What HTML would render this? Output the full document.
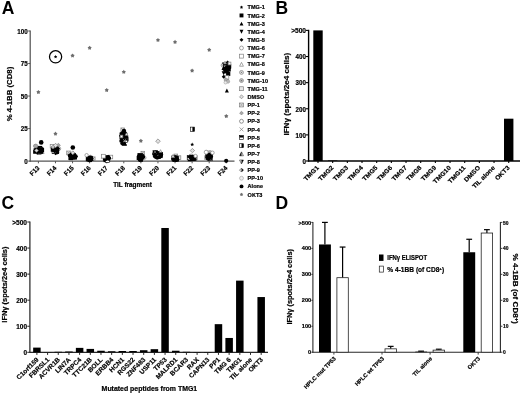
<!DOCTYPE html>
<html><head><meta charset="utf-8"><title>Figure</title>
<style>html,body{margin:0;padding:0;background:#fff;}svg{display:block}text{font-family:"Liberation Sans",Arial,sans-serif;font-weight:bold;stroke:#000;stroke-width:0.2px;stroke-linejoin:round}text.big{stroke:none}</style>
</head><body>
<svg width="520" height="393" viewBox="0 0 520 393">
<defs><filter id="soft" x="0" y="0" width="520" height="393" filterUnits="userSpaceOnUse"><feGaussianBlur stdDeviation="0.35"/></filter></defs>
<rect width="520" height="393" fill="#fff"/>
<g filter="url(#soft)">
<text class=big transform="translate(1.70,14.30)" font-size="17.5" text-anchor="start" fill="#000">A</text>
<line x1="30.20" y1="30.40" x2="30.20" y2="161.70" stroke="#555" stroke-width="1.25"/>
<line x1="29.60" y1="161.10" x2="234.50" y2="161.10" stroke="#555" stroke-width="1.3"/>
<line x1="28.20" y1="161.10" x2="30.20" y2="161.10" stroke="#555" stroke-width="1"/>
<text transform="translate(27.70,164.00) scale(0.953,1)" font-size="6.6" text-anchor="end" fill="#000">0</text>
<line x1="28.20" y1="128.57" x2="30.20" y2="128.57" stroke="#555" stroke-width="1"/>
<text transform="translate(27.70,131.47) scale(0.953,1)" font-size="6.6" text-anchor="end" fill="#000">25</text>
<line x1="28.20" y1="96.05" x2="30.20" y2="96.05" stroke="#555" stroke-width="1"/>
<text transform="translate(27.70,98.95) scale(0.953,1)" font-size="6.6" text-anchor="end" fill="#000">50</text>
<line x1="28.20" y1="63.53" x2="30.20" y2="63.53" stroke="#555" stroke-width="1"/>
<text transform="translate(27.70,66.43) scale(0.953,1)" font-size="6.6" text-anchor="end" fill="#000">75</text>
<line x1="28.20" y1="31.00" x2="30.20" y2="31.00" stroke="#555" stroke-width="1"/>
<text transform="translate(27.70,33.90) scale(0.953,1)" font-size="6.6" text-anchor="end" fill="#000">100</text>
<text transform="translate(12.20,94.00) rotate(-90) scale(1.026,1)" font-size="7.6" text-anchor="middle" fill="#000">% 4-1BB (CD8)</text>
<line x1="38.40" y1="161.10" x2="38.40" y2="163.30" stroke="#555" stroke-width="1"/>
<text transform="translate(40.00,168.60) rotate(-45) scale(0.960,1)" font-size="6.6" text-anchor="end" fill="#000">F13</text>
<line x1="55.48" y1="161.10" x2="55.48" y2="163.30" stroke="#555" stroke-width="1"/>
<text transform="translate(57.08,168.60) rotate(-45) scale(0.960,1)" font-size="6.6" text-anchor="end" fill="#000">F14</text>
<line x1="72.56" y1="161.10" x2="72.56" y2="163.30" stroke="#555" stroke-width="1"/>
<text transform="translate(74.16,168.60) rotate(-45) scale(0.960,1)" font-size="6.6" text-anchor="end" fill="#000">F15</text>
<line x1="89.64" y1="161.10" x2="89.64" y2="163.30" stroke="#555" stroke-width="1"/>
<text transform="translate(91.24,168.60) rotate(-45) scale(0.960,1)" font-size="6.6" text-anchor="end" fill="#000">F16</text>
<line x1="106.72" y1="161.10" x2="106.72" y2="163.30" stroke="#555" stroke-width="1"/>
<text transform="translate(108.32,168.60) rotate(-45) scale(0.960,1)" font-size="6.6" text-anchor="end" fill="#000">F17</text>
<line x1="123.80" y1="161.10" x2="123.80" y2="163.30" stroke="#555" stroke-width="1"/>
<text transform="translate(125.40,168.60) rotate(-45) scale(0.960,1)" font-size="6.6" text-anchor="end" fill="#000">F18</text>
<line x1="140.88" y1="161.10" x2="140.88" y2="163.30" stroke="#555" stroke-width="1"/>
<text transform="translate(142.48,168.60) rotate(-45) scale(0.960,1)" font-size="6.6" text-anchor="end" fill="#000">F19</text>
<line x1="157.96" y1="161.10" x2="157.96" y2="163.30" stroke="#555" stroke-width="1"/>
<text transform="translate(159.56,168.60) rotate(-45) scale(0.960,1)" font-size="6.6" text-anchor="end" fill="#000">F20</text>
<line x1="175.04" y1="161.10" x2="175.04" y2="163.30" stroke="#555" stroke-width="1"/>
<text transform="translate(176.64,168.60) rotate(-45) scale(0.960,1)" font-size="6.6" text-anchor="end" fill="#000">F21</text>
<line x1="192.12" y1="161.10" x2="192.12" y2="163.30" stroke="#555" stroke-width="1"/>
<text transform="translate(193.72,168.60) rotate(-45) scale(0.960,1)" font-size="6.6" text-anchor="end" fill="#000">F22</text>
<line x1="209.20" y1="161.10" x2="209.20" y2="163.30" stroke="#555" stroke-width="1"/>
<text transform="translate(210.80,168.60) rotate(-45) scale(0.960,1)" font-size="6.6" text-anchor="end" fill="#000">F23</text>
<line x1="226.28" y1="161.10" x2="226.28" y2="163.30" stroke="#555" stroke-width="1"/>
<text transform="translate(227.88,168.60) rotate(-45) scale(0.960,1)" font-size="6.6" text-anchor="end" fill="#000">F24</text>
<text transform="translate(132.50,186.90) scale(0.974,1)" font-size="6.6" text-anchor="middle" fill="#000">TIL fragment</text>
<circle cx="35.23" cy="146.06" r="1.80" fill="#fff" stroke="#808080" stroke-width="0.7"/>
<circle cx="40.78" cy="150.84" r="1.80" fill="#e2e2e2" stroke="#808080" stroke-width="0.7"/>
<circle cx="40.78" cy="150.84" r="0.63" fill="#808080"/>
<polygon points="42.34,149.93 44.14,153.53 40.54,153.53" fill="#fff" stroke="#808080" stroke-width="0.7"/>
<rect x="36.23" y="146.54" width="3.60" height="3.60" fill="#e6e6e6" stroke="#808080" stroke-width="0.7"/>
<rect x="39.89" y="148.02" width="4.20" height="4.20" fill="#000"/>
<polygon points="36.76,146.14 38.86,150.34 34.66,150.34" fill="#000"/>
<polygon points="38.65,152.96 40.75,148.76 36.55,148.76" fill="#000"/>
<polygon points="37.52,147.93 39.93,150.35 37.52,152.76 35.10,150.35" fill="#000"/>
<rect x="36.96" y="150.00" width="4.20" height="4.20" fill="#fff" stroke="#000" stroke-width="0.6"/>
<rect x="36.96" y="150.00" width="4.20" height="2.10" fill="#000"/>
<circle cx="40.86" cy="150.95" r="2.10" fill="#000"/>
<rect x="33.16" y="149.57" width="4.20" height="4.20" fill="#000"/>
<polygon points="35.48,148.06 37.58,152.26 33.38,152.26" fill="#000"/>
<polygon points="35.40,152.60 37.50,148.40 33.30,148.40" fill="#000"/>
<circle cx="36.53" cy="150.99" r="2.10" fill="#000"/>
<polygon points="42.07,148.45 42.66,149.64 43.97,149.83 43.02,150.76 43.24,152.06 42.07,151.45 40.90,152.06 41.12,150.76 40.17,149.83 41.49,149.64" fill="#000"/>
<rect x="37.96" y="145.92" width="4.20" height="4.20" fill="#000"/>
<polygon points="37.70,149.62 40.11,152.04 37.70,154.45 35.28,152.04" fill="#000"/>
<circle cx="38.16" cy="151.40" r="2.10" fill="#000"/>
<rect x="36.54" y="146.20" width="4.20" height="4.20" fill="#000"/>
<polygon points="39.70,146.61 41.80,150.81 37.60,150.81" fill="#000"/>
<polygon points="41.67,151.76 43.77,147.56 39.57,147.56" fill="#000"/>
<polygon points="40.09,148.09 42.50,150.51 40.09,152.92 37.67,150.51" fill="#000"/>
<rect x="38.43" y="147.12" width="4.20" height="4.20" fill="#fff" stroke="#000" stroke-width="0.6"/>
<rect x="38.43" y="147.12" width="4.20" height="2.10" fill="#000"/>
<circle cx="40.70" cy="150.23" r="2.10" fill="#000"/>
<rect x="38.92" y="149.63" width="4.20" height="4.20" fill="#000"/>
<polygon points="38.74,146.61 40.84,150.81 36.64,150.81" fill="#000"/>
<polygon points="40.21,153.65 42.31,149.45 38.11,149.45" fill="#000"/>
<circle cx="41.52" cy="149.82" r="2.10" fill="#000"/>
<polygon points="39.75,149.68 40.33,150.86 41.64,151.06 40.70,151.98 40.92,153.29 39.75,152.67 38.57,153.29 38.80,151.98 37.85,151.06 39.16,150.86" fill="#000"/>
<rect x="37.03" y="148.91" width="4.20" height="4.20" fill="#000"/>
<polygon points="38.85,146.68 41.27,149.09 38.85,151.51 36.44,149.09" fill="#000"/>
<circle cx="36.11" cy="149.65" r="2.10" fill="#000"/>
<polygon points="58.39,143.25 60.37,145.23 58.39,147.21 56.41,145.23" fill="#a8a8a8" stroke="#808080" stroke-width="0.6"/>
<rect x="50.21" y="144.36" width="3.60" height="3.60" fill="#fff" stroke="#808080" stroke-width="0.7"/>
<line x1="55.65" y1="147.26" x2="59.25" y2="150.86" stroke="#808080" stroke-width="0.7"/>
<line x1="55.65" y1="150.86" x2="59.25" y2="147.26" stroke="#808080" stroke-width="0.7"/>
<circle cx="58.94" cy="148.70" r="1.80" fill="#e2e2e2" stroke="#808080" stroke-width="0.7"/>
<circle cx="58.94" cy="148.70" r="0.63" fill="#808080"/>
<rect x="52.98" y="147.58" width="4.20" height="4.20" fill="#000"/>
<polygon points="56.75,149.65 58.85,153.85 54.65,153.85" fill="#000"/>
<polygon points="57.82,152.26 59.92,148.06 55.72,148.06" fill="#000"/>
<polygon points="56.46,145.78 58.87,148.20 56.46,150.61 54.04,148.20" fill="#000"/>
<rect x="54.66" y="148.58" width="4.20" height="4.20" fill="#fff" stroke="#000" stroke-width="0.6"/>
<rect x="54.66" y="148.58" width="4.20" height="2.10" fill="#000"/>
<circle cx="55.37" cy="149.69" r="2.10" fill="#000"/>
<rect x="51.97" y="149.82" width="4.20" height="4.20" fill="#000"/>
<polygon points="57.12,149.72 59.22,153.92 55.02,153.92" fill="#000"/>
<polygon points="56.12,151.04 58.22,146.84 54.02,146.84" fill="#000"/>
<circle cx="53.90" cy="151.72" r="2.10" fill="#000"/>
<polygon points="55.09,149.47 55.68,150.66 56.99,150.85 56.04,151.78 56.26,153.08 55.09,152.47 53.92,153.08 54.14,151.78 53.19,150.85 54.51,150.66" fill="#000"/>
<rect x="51.63" y="146.10" width="4.20" height="4.20" fill="#000"/>
<polygon points="56.83,149.79 59.25,152.20 56.83,154.62 54.42,152.20" fill="#000"/>
<circle cx="53.37" cy="149.09" r="2.10" fill="#000"/>
<rect x="51.99" y="149.39" width="4.20" height="4.20" fill="#000"/>
<polygon points="56.15,148.24 58.25,152.44 54.05,152.44" fill="#000"/>
<polygon points="57.18,153.60 59.28,149.40 55.08,149.40" fill="#000"/>
<polygon points="55.52,150.43 57.94,152.85 55.52,155.26 53.11,152.85" fill="#000"/>
<rect x="52.06" y="149.25" width="4.20" height="4.20" fill="#fff" stroke="#000" stroke-width="0.6"/>
<rect x="52.06" y="149.25" width="4.20" height="2.10" fill="#000"/>
<circle cx="57.25" cy="148.69" r="2.10" fill="#000"/>
<rect x="50.77" y="147.50" width="4.20" height="4.20" fill="#000"/>
<polygon points="56.60,147.73 58.70,151.93 54.50,151.93" fill="#000"/>
<polygon points="53.31,152.45 55.41,148.25 51.21,148.25" fill="#000"/>
<circle cx="55.02" cy="149.40" r="2.10" fill="#000"/>
<polygon points="56.24,151.09 56.82,152.27 58.14,152.46 57.19,153.39 57.41,154.69 56.24,154.08 55.07,154.69 55.29,153.39 54.34,152.46 55.65,152.27" fill="#000"/>
<rect x="53.50" y="147.03" width="4.20" height="4.20" fill="#000"/>
<polygon points="54.39,148.46 56.81,150.87 54.39,153.29 51.98,150.87" fill="#000"/>
<circle cx="57.05" cy="150.51" r="2.10" fill="#000"/>
<rect x="66.70" y="151.05" width="3.60" height="3.60" fill="#f0f0f0" stroke="#808080" stroke-width="0.7"/>
<line x1="66.70" y1="151.05" x2="70.30" y2="154.65" stroke="#808080" stroke-width="0.6"/>
<line x1="66.70" y1="154.65" x2="70.30" y2="151.05" stroke="#808080" stroke-width="0.6"/>
<polygon points="69.57,153.18 71.55,155.16 69.57,157.14 67.59,155.16" fill="#a8a8a8" stroke="#808080" stroke-width="0.6"/>
<polygon points="72.07,153.37 74.14,155.44 72.07,157.51 70.00,155.44" fill="#e0e0e0" stroke="#808080" stroke-width="0.7"/>
<circle cx="71.33" cy="154.20" r="1.80" fill="#fff" stroke="#808080" stroke-width="0.7"/>
<rect x="71.98" y="154.45" width="4.20" height="4.20" fill="#000"/>
<polygon points="72.98,154.39 75.08,158.59 70.88,158.59" fill="#000"/>
<polygon points="70.48,158.52 72.58,154.32 68.38,154.32" fill="#000"/>
<polygon points="75.48,154.22 77.90,156.64 75.48,159.05 73.07,156.64" fill="#000"/>
<rect x="70.20" y="153.04" width="4.20" height="4.20" fill="#fff" stroke="#000" stroke-width="0.6"/>
<rect x="70.20" y="153.04" width="4.20" height="2.10" fill="#000"/>
<circle cx="74.28" cy="155.68" r="2.10" fill="#000"/>
<rect x="72.26" y="154.74" width="4.20" height="4.20" fill="#000"/>
<polygon points="75.11,154.94 77.21,159.14 73.01,159.14" fill="#000"/>
<polygon points="72.94,157.96 75.04,153.76 70.84,153.76" fill="#000"/>
<circle cx="72.00" cy="156.00" r="2.10" fill="#000"/>
<polygon points="71.33,152.75 71.92,153.94 73.23,154.13 72.28,155.05 72.50,156.36 71.33,155.74 70.16,156.36 70.38,155.05 69.43,154.13 70.75,153.94" fill="#000"/>
<rect x="71.19" y="153.95" width="4.20" height="4.20" fill="#000"/>
<polygon points="73.35,154.02 75.76,156.44 73.35,158.85 70.93,156.44" fill="#000"/>
<circle cx="72.30" cy="157.54" r="2.10" fill="#000"/>
<rect x="68.76" y="155.92" width="4.20" height="4.20" fill="#000"/>
<polygon points="71.63,152.38 73.73,156.58 69.53,156.58" fill="#000"/>
<polygon points="70.03,158.51 72.13,154.31 67.93,154.31" fill="#000"/>
<polygon points="70.04,153.38 72.46,155.80 70.04,158.21 67.63,155.80" fill="#000"/>
<rect x="69.94" y="154.56" width="4.20" height="4.20" fill="#fff" stroke="#000" stroke-width="0.6"/>
<rect x="69.94" y="154.56" width="4.20" height="2.10" fill="#000"/>
<circle cx="75.61" cy="156.33" r="2.10" fill="#000"/>
<rect x="72.52" y="155.28" width="4.20" height="4.20" fill="#000"/>
<polygon points="71.16,152.49 73.26,156.69 69.06,156.69" fill="#000"/>
<polygon points="74.00,157.22 76.10,153.02 71.90,153.02" fill="#000"/>
<circle cx="74.01" cy="157.47" r="2.10" fill="#000"/>
<polygon points="69.54,153.77 70.13,154.95 71.44,155.14 70.49,156.07 70.72,157.37 69.54,156.76 68.37,157.37 68.60,156.07 67.65,155.14 68.96,154.95" fill="#000"/>
<rect x="68.55" y="155.83" width="4.20" height="4.20" fill="#000"/>
<polygon points="70.77,153.60 73.19,156.01 70.77,158.43 68.36,156.01" fill="#000"/>
<circle cx="71.03" cy="156.67" r="2.10" fill="#000"/>
<circle cx="91.41" cy="158.86" r="1.80" fill="#eee" stroke="#aaa" stroke-width="0.7"/>
<polygon points="90.57,155.71 92.37,159.31 88.77,159.31" fill="#fff" stroke="#808080" stroke-width="0.7"/>
<rect x="91.48" y="156.93" width="3.60" height="3.60" fill="#f0f0f0" stroke="#808080" stroke-width="0.7"/>
<line x1="91.48" y1="156.93" x2="95.08" y2="160.53" stroke="#808080" stroke-width="0.6"/>
<line x1="91.48" y1="160.53" x2="95.08" y2="156.93" stroke="#808080" stroke-width="0.6"/>
<polygon points="90.53,155.00 92.60,157.07 90.53,159.14 88.46,157.07" fill="#e0e0e0" stroke="#808080" stroke-width="0.7"/>
<rect x="85.81" y="157.09" width="4.20" height="4.20" fill="#000"/>
<polygon points="90.66,156.30 92.76,160.50 88.56,160.50" fill="#000"/>
<polygon points="88.20,160.99 90.30,156.79 86.10,156.79" fill="#000"/>
<polygon points="89.57,155.59 91.99,158.01 89.57,160.42 87.16,158.01" fill="#000"/>
<rect x="87.02" y="156.46" width="4.20" height="4.20" fill="#fff" stroke="#000" stroke-width="0.6"/>
<rect x="87.02" y="156.46" width="4.20" height="2.10" fill="#000"/>
<circle cx="90.55" cy="158.49" r="2.10" fill="#000"/>
<rect x="86.48" y="156.33" width="4.20" height="4.20" fill="#000"/>
<polygon points="89.75,157.54 91.85,161.74 87.65,161.74" fill="#000"/>
<polygon points="89.02,160.43 91.12,156.23 86.92,156.23" fill="#000"/>
<circle cx="89.11" cy="158.46" r="2.10" fill="#000"/>
<polygon points="90.71,157.91 91.30,159.09 92.61,159.28 91.66,160.21 91.89,161.51 90.71,160.90 89.54,161.51 89.77,160.21 88.82,159.28 90.13,159.09" fill="#000"/>
<rect x="87.70" y="157.87" width="4.20" height="4.20" fill="#000"/>
<polygon points="90.64,155.54 93.05,157.95 90.64,160.37 88.22,157.95" fill="#000"/>
<circle cx="90.55" cy="159.24" r="2.10" fill="#000"/>
<rect x="86.18" y="156.71" width="4.20" height="4.20" fill="#000"/>
<polygon points="89.58,157.13 91.68,161.33 87.48,161.33" fill="#000"/>
<polygon points="90.64,162.05 92.74,157.85 88.54,157.85" fill="#000"/>
<polygon points="89.93,157.52 92.34,159.93 89.93,162.35 87.51,159.93" fill="#000"/>
<rect x="87.95" y="156.09" width="4.20" height="4.20" fill="#fff" stroke="#000" stroke-width="0.6"/>
<rect x="87.95" y="156.09" width="4.20" height="2.10" fill="#000"/>
<circle cx="91.02" cy="159.12" r="2.10" fill="#000"/>
<rect x="88.19" y="156.10" width="4.20" height="4.20" fill="#000"/>
<polygon points="91.48,156.64 93.58,160.84 89.38,160.84" fill="#000"/>
<polygon points="90.88,161.09 92.98,156.89 88.78,156.89" fill="#000"/>
<circle cx="91.07" cy="158.25" r="2.10" fill="#000"/>
<polygon points="90.23,157.70 90.82,158.89 92.13,159.08 91.18,160.01 91.40,161.31 90.23,160.70 89.06,161.31 89.28,160.01 88.33,159.08 89.64,158.89" fill="#000"/>
<rect x="88.97" y="156.47" width="4.20" height="4.20" fill="#000"/>
<polygon points="89.07,156.73 91.48,159.15 89.07,161.56 86.65,159.15" fill="#000"/>
<circle cx="90.14" cy="158.94" r="2.10" fill="#000"/>
<circle cx="107.71" cy="160.36" r="1.80" fill="#e2e2e2" stroke="#808080" stroke-width="0.7"/>
<circle cx="107.71" cy="160.36" r="0.63" fill="#808080"/>
<rect x="109.12" y="155.21" width="3.60" height="3.60" fill="#fff" stroke="#808080" stroke-width="0.7"/>
<line x1="101.37" y1="154.95" x2="104.97" y2="158.55" stroke="#808080" stroke-width="0.7"/>
<line x1="101.37" y1="158.55" x2="104.97" y2="154.95" stroke="#808080" stroke-width="0.7"/>
<circle cx="105.09" cy="160.16" r="1.80" fill="#eee" stroke="#aaa" stroke-width="0.7"/>
<rect x="105.70" y="155.64" width="4.20" height="4.20" fill="#000"/>
<polygon points="108.39,157.11 110.49,161.31 106.29,161.31" fill="#000"/>
<polygon points="104.50,160.20 106.60,156.00 102.40,156.00" fill="#000"/>
<polygon points="106.34,156.21 108.75,158.62 106.34,161.04 103.92,158.62" fill="#000"/>
<rect x="104.95" y="156.07" width="4.20" height="4.20" fill="#fff" stroke="#000" stroke-width="0.6"/>
<rect x="104.95" y="156.07" width="4.20" height="2.10" fill="#000"/>
<circle cx="107.15" cy="157.87" r="2.10" fill="#000"/>
<rect x="103.45" y="157.91" width="4.20" height="4.20" fill="#000"/>
<polygon points="107.48,157.05 109.58,161.25 105.38,161.25" fill="#000"/>
<polygon points="104.46,160.54 106.56,156.34 102.36,156.34" fill="#000"/>
<circle cx="108.03" cy="157.31" r="2.10" fill="#000"/>
<polygon points="108.63,156.17 109.21,157.36 110.52,157.55 109.57,158.48 109.80,159.78 108.63,159.17 107.45,159.78 107.68,158.48 106.73,157.55 108.04,157.36" fill="#000"/>
<rect x="105.47" y="156.33" width="4.20" height="4.20" fill="#000"/>
<polygon points="107.16,157.50 109.57,159.91 107.16,162.33 104.74,159.91" fill="#000"/>
<circle cx="106.21" cy="160.12" r="2.10" fill="#000"/>
<rect x="103.42" y="155.48" width="4.20" height="4.20" fill="#000"/>
<polygon points="107.95,155.35 110.05,159.55 105.85,159.55" fill="#000"/>
<polygon points="106.16,161.75 108.26,157.55 104.06,157.55" fill="#000"/>
<polygon points="108.28,154.74 110.69,157.16 108.28,159.57 105.86,157.16" fill="#000"/>
<rect x="105.36" y="158.14" width="4.20" height="4.20" fill="#fff" stroke="#000" stroke-width="0.6"/>
<rect x="105.36" y="158.14" width="4.20" height="2.10" fill="#000"/>
<circle cx="108.76" cy="158.34" r="2.10" fill="#000"/>
<rect x="103.59" y="156.13" width="4.20" height="4.20" fill="#000"/>
<polygon points="104.89,156.21 106.99,160.41 102.79,160.41" fill="#000"/>
<polygon points="106.44,160.51 108.54,156.31 104.34,156.31" fill="#000"/>
<circle cx="108.75" cy="158.35" r="2.10" fill="#000"/>
<polygon points="104.80,157.57 105.38,158.76 106.69,158.95 105.74,159.87 105.97,161.18 104.80,160.56 103.62,161.18 103.85,159.87 102.90,158.95 104.21,158.76" fill="#000"/>
<rect x="102.91" y="156.00" width="4.20" height="4.20" fill="#000"/>
<polygon points="106.54,155.74 108.96,158.16 106.54,160.57 104.13,158.16" fill="#000"/>
<circle cx="105.08" cy="158.31" r="2.10" fill="#000"/>
<circle cx="126.21" cy="140.57" r="1.80" fill="#e2e2e2" stroke="#808080" stroke-width="0.7"/>
<circle cx="126.21" cy="140.57" r="0.63" fill="#808080"/>
<rect x="124.41" y="136.25" width="3.60" height="3.60" fill="#e6e6e6" stroke="#808080" stroke-width="0.7"/>
<rect x="120.91" y="127.95" width="3.60" height="3.60" fill="#f0f0f0" stroke="#808080" stroke-width="0.7"/>
<line x1="120.91" y1="127.95" x2="124.51" y2="131.55" stroke="#808080" stroke-width="0.6"/>
<line x1="120.91" y1="131.55" x2="124.51" y2="127.95" stroke="#808080" stroke-width="0.6"/>
<circle cx="125.69" cy="138.00" r="1.80" fill="#fff" stroke="#808080" stroke-width="0.7"/>
<rect x="123.46" y="136.65" width="4.20" height="4.20" fill="#000"/>
<polygon points="123.76,133.35 125.86,137.55 121.66,137.55" fill="#000"/>
<polygon points="121.92,140.63 124.02,136.43 119.82,136.43" fill="#000"/>
<polygon points="121.64,133.23 124.05,135.65 121.64,138.06 119.22,135.65" fill="#000"/>
<rect x="120.12" y="132.69" width="4.20" height="4.20" fill="#fff" stroke="#000" stroke-width="0.6"/>
<rect x="120.12" y="132.69" width="4.20" height="2.10" fill="#000"/>
<circle cx="123.17" cy="132.91" r="2.10" fill="#000"/>
<rect x="124.22" y="137.12" width="4.20" height="4.20" fill="#000"/>
<polygon points="125.05,132.03 127.15,136.23 122.95,136.23" fill="#000"/>
<polygon points="121.34,139.22 123.44,135.02 119.24,135.02" fill="#000"/>
<circle cx="122.66" cy="137.88" r="2.10" fill="#000"/>
<polygon points="124.46,141.01 125.04,142.20 126.35,142.39 125.41,143.31 125.63,144.62 124.46,144.00 123.28,144.62 123.51,143.31 122.56,142.39 123.87,142.20" fill="#000"/>
<rect x="120.97" y="135.20" width="4.20" height="4.20" fill="#000"/>
<polygon points="126.01,133.56 128.42,135.97 126.01,138.39 123.59,135.97" fill="#000"/>
<circle cx="123.28" cy="140.68" r="2.10" fill="#000"/>
<rect x="119.68" y="132.84" width="4.20" height="4.20" fill="#000"/>
<polygon points="124.88,141.59 126.98,145.79 122.78,145.79" fill="#000"/>
<polygon points="124.31,142.43 126.41,138.23 122.21,138.23" fill="#000"/>
<polygon points="124.82,134.62 127.24,137.04 124.82,139.45 122.41,137.04" fill="#000"/>
<rect x="123.46" y="138.45" width="4.20" height="4.20" fill="#fff" stroke="#000" stroke-width="0.6"/>
<rect x="123.46" y="138.45" width="4.20" height="2.10" fill="#000"/>
<circle cx="121.38" cy="140.92" r="2.10" fill="#000"/>
<rect x="119.52" y="134.99" width="4.20" height="4.20" fill="#000"/>
<polygon points="124.71,141.12 126.81,145.32 122.61,145.32" fill="#000"/>
<polygon points="124.28,138.75 126.38,134.55 122.18,134.55" fill="#000"/>
<circle cx="122.41" cy="136.91" r="2.10" fill="#000"/>
<polygon points="124.76,133.11 125.35,134.30 126.66,134.49 125.71,135.42 125.94,136.72 124.76,136.10 123.59,136.72 123.81,135.42 122.87,134.49 124.18,134.30" fill="#000"/>
<rect x="121.24" y="131.62" width="4.20" height="4.20" fill="#000"/>
<polygon points="122.37,141.29 124.78,143.70 122.37,146.12 119.95,143.70" fill="#000"/>
<circle cx="125.31" cy="133.64" r="2.10" fill="#000"/>
<polygon points="141.49,156.07 143.29,159.67 139.69,159.67" fill="#fff" stroke="#808080" stroke-width="0.7"/>
<rect x="141.03" y="151.31" width="3.60" height="3.60" fill="#f0f0f0" stroke="#808080" stroke-width="0.7"/>
<line x1="141.03" y1="151.31" x2="144.63" y2="154.91" stroke="#808080" stroke-width="0.6"/>
<line x1="141.03" y1="154.91" x2="144.63" y2="151.31" stroke="#808080" stroke-width="0.6"/>
<polygon points="141.85,153.71 143.92,155.78 141.85,157.85 139.78,155.78" fill="#e0e0e0" stroke="#808080" stroke-width="0.7"/>
<circle cx="144.23" cy="157.71" r="1.80" fill="#fff" stroke="#808080" stroke-width="0.7"/>
<rect x="136.67" y="155.89" width="4.20" height="4.20" fill="#000"/>
<polygon points="140.04,156.85 142.14,161.05 137.94,161.05" fill="#000"/>
<polygon points="139.24,159.45 141.34,155.25 137.14,155.25" fill="#000"/>
<polygon points="140.58,154.92 142.99,157.34 140.58,159.75 138.16,157.34" fill="#000"/>
<rect x="138.03" y="153.31" width="4.20" height="4.20" fill="#fff" stroke="#000" stroke-width="0.6"/>
<rect x="138.03" y="153.31" width="4.20" height="2.10" fill="#000"/>
<circle cx="141.47" cy="158.96" r="2.10" fill="#000"/>
<rect x="138.60" y="153.88" width="4.20" height="4.20" fill="#000"/>
<polygon points="141.13,156.31 143.23,160.51 139.03,160.51" fill="#000"/>
<polygon points="140.50,159.58 142.60,155.38 138.40,155.38" fill="#000"/>
<circle cx="142.48" cy="156.17" r="2.10" fill="#000"/>
<polygon points="140.18,153.38 140.76,154.56 142.07,154.75 141.13,155.68 141.35,156.98 140.18,156.37 139.00,156.98 139.23,155.68 138.28,154.75 139.59,154.56" fill="#000"/>
<rect x="137.65" y="154.30" width="4.20" height="4.20" fill="#000"/>
<polygon points="139.42,154.09 141.84,156.50 139.42,158.92 137.01,156.50" fill="#000"/>
<circle cx="142.93" cy="157.27" r="2.10" fill="#000"/>
<rect x="138.58" y="157.68" width="4.20" height="4.20" fill="#000"/>
<polygon points="140.73,153.29 142.83,157.49 138.63,157.49" fill="#000"/>
<polygon points="141.40,158.20 143.50,154.00 139.30,154.00" fill="#000"/>
<polygon points="142.59,153.73 145.00,156.14 142.59,158.56 140.17,156.14" fill="#000"/>
<rect x="137.99" y="153.43" width="4.20" height="4.20" fill="#fff" stroke="#000" stroke-width="0.6"/>
<rect x="137.99" y="153.43" width="4.20" height="2.10" fill="#000"/>
<circle cx="140.95" cy="155.98" r="2.10" fill="#000"/>
<rect x="138.59" y="154.77" width="4.20" height="4.20" fill="#000"/>
<polygon points="139.91,156.77 142.01,160.97 137.81,160.97" fill="#000"/>
<polygon points="142.22,159.69 144.32,155.49 140.12,155.49" fill="#000"/>
<circle cx="139.58" cy="156.05" r="2.10" fill="#000"/>
<polygon points="141.06,157.82 141.65,159.00 142.96,159.19 142.01,160.12 142.23,161.42 141.06,160.81 139.89,161.42 140.11,160.12 139.16,159.19 140.47,159.00" fill="#000"/>
<rect x="138.00" y="154.20" width="4.20" height="4.20" fill="#000"/>
<polygon points="139.83,153.56 142.25,155.98 139.83,158.39 137.42,155.98" fill="#000"/>
<circle cx="139.34" cy="157.19" r="2.10" fill="#000"/>
<circle cx="157.47" cy="156.47" r="1.80" fill="#e2e2e2" stroke="#808080" stroke-width="0.7"/>
<circle cx="157.47" cy="156.47" r="0.63" fill="#808080"/>
<rect x="157.90" y="152.19" width="3.60" height="3.60" fill="#e6e6e6" stroke="#808080" stroke-width="0.7"/>
<polygon points="156.49,152.33 158.56,154.40 156.49,156.47 154.42,154.40" fill="#e0e0e0" stroke="#808080" stroke-width="0.7"/>
<polygon points="157.57,156.08 159.55,158.06 157.57,160.04 155.59,158.06" fill="#a8a8a8" stroke="#808080" stroke-width="0.6"/>
<rect x="153.13" y="151.63" width="4.20" height="4.20" fill="#000"/>
<polygon points="160.18,151.86 162.28,156.06 158.08,156.06" fill="#000"/>
<polygon points="160.39,156.51 162.49,152.31 158.29,152.31" fill="#000"/>
<polygon points="157.95,151.19 160.37,153.60 157.95,156.02 155.54,153.60" fill="#000"/>
<rect x="153.01" y="150.65" width="4.20" height="4.20" fill="#fff" stroke="#000" stroke-width="0.6"/>
<rect x="153.01" y="150.65" width="4.20" height="2.10" fill="#000"/>
<circle cx="160.84" cy="155.44" r="2.10" fill="#000"/>
<rect x="156.79" y="154.43" width="4.20" height="4.20" fill="#000"/>
<polygon points="158.80,154.55 160.90,158.75 156.70,158.75" fill="#000"/>
<polygon points="156.95,156.06 159.05,151.86 154.85,151.86" fill="#000"/>
<circle cx="159.73" cy="153.74" r="2.10" fill="#000"/>
<polygon points="154.94,152.05 155.52,153.24 156.83,153.43 155.88,154.36 156.11,155.66 154.94,155.05 153.76,155.66 153.99,154.36 153.04,153.43 154.35,153.24" fill="#000"/>
<rect x="154.26" y="153.80" width="4.20" height="4.20" fill="#000"/>
<polygon points="156.13,149.92 158.55,152.33 156.13,154.75 153.72,152.33" fill="#000"/>
<circle cx="156.98" cy="157.39" r="2.10" fill="#000"/>
<rect x="155.38" y="152.80" width="4.20" height="4.20" fill="#000"/>
<polygon points="157.62,153.12 159.72,157.32 155.52,157.32" fill="#000"/>
<polygon points="159.28,159.13 161.38,154.93 157.18,154.93" fill="#000"/>
<polygon points="155.05,154.20 157.46,156.61 155.05,159.03 152.63,156.61" fill="#000"/>
<rect x="155.49" y="151.62" width="4.20" height="4.20" fill="#fff" stroke="#000" stroke-width="0.6"/>
<rect x="155.49" y="151.62" width="4.20" height="2.10" fill="#000"/>
<circle cx="160.99" cy="154.26" r="2.10" fill="#000"/>
<rect x="158.48" y="153.88" width="4.20" height="4.20" fill="#000"/>
<polygon points="155.42,153.44 157.52,157.64 153.32,157.64" fill="#000"/>
<polygon points="159.30,156.31 161.40,152.11 157.20,152.11" fill="#000"/>
<circle cx="154.25" cy="154.01" r="2.10" fill="#000"/>
<polygon points="157.19,150.15 157.78,151.34 159.09,151.53 158.14,152.45 158.36,153.76 157.19,153.14 156.02,153.76 156.24,152.45 155.29,151.53 156.61,151.34" fill="#000"/>
<rect x="158.63" y="151.98" width="4.20" height="4.20" fill="#000"/>
<polygon points="156.66,151.37 159.07,153.78 156.66,156.20 154.24,153.78" fill="#000"/>
<circle cx="155.92" cy="152.84" r="2.10" fill="#000"/>
<rect x="171.63" y="156.14" width="3.60" height="3.60" fill="#fff" stroke="#808080" stroke-width="0.7"/>
<line x1="171.36" y1="155.03" x2="174.96" y2="158.63" stroke="#808080" stroke-width="0.7"/>
<line x1="171.36" y1="158.63" x2="174.96" y2="155.03" stroke="#808080" stroke-width="0.7"/>
<rect x="173.98" y="154.08" width="3.60" height="3.60" fill="#f0f0f0" stroke="#808080" stroke-width="0.7"/>
<line x1="173.98" y1="154.08" x2="177.58" y2="157.68" stroke="#808080" stroke-width="0.6"/>
<line x1="173.98" y1="157.68" x2="177.58" y2="154.08" stroke="#808080" stroke-width="0.6"/>
<rect x="177.21" y="155.77" width="3.60" height="3.60" fill="#e6e6e6" stroke="#808080" stroke-width="0.7"/>
<rect x="173.08" y="156.16" width="4.20" height="4.20" fill="#000"/>
<polygon points="177.01,157.38 179.11,161.58 174.91,161.58" fill="#000"/>
<polygon points="175.70,160.05 177.80,155.85 173.60,155.85" fill="#000"/>
<polygon points="174.51,156.83 176.93,159.25 174.51,161.66 172.10,159.25" fill="#000"/>
<rect x="172.49" y="155.94" width="4.20" height="4.20" fill="#fff" stroke="#000" stroke-width="0.6"/>
<rect x="172.49" y="155.94" width="4.20" height="2.10" fill="#000"/>
<circle cx="173.70" cy="158.32" r="2.10" fill="#000"/>
<rect x="173.22" y="156.22" width="4.20" height="4.20" fill="#000"/>
<polygon points="175.32,157.79 177.42,161.99 173.22,161.99" fill="#000"/>
<polygon points="177.24,160.38 179.34,156.18 175.14,156.18" fill="#000"/>
<circle cx="175.87" cy="158.87" r="2.10" fill="#000"/>
<polygon points="175.10,157.52 175.68,158.71 176.99,158.90 176.04,159.82 176.27,161.13 175.10,160.51 173.92,161.13 174.15,159.82 173.20,158.90 174.51,158.71" fill="#000"/>
<rect x="172.65" y="156.45" width="4.20" height="4.20" fill="#000"/>
<polygon points="174.68,156.31 177.09,158.72 174.68,161.14 172.26,158.72" fill="#000"/>
<circle cx="176.98" cy="159.27" r="2.10" fill="#000"/>
<rect x="171.40" y="156.43" width="4.20" height="4.20" fill="#000"/>
<polygon points="174.14,157.25 176.24,161.45 172.04,161.45" fill="#000"/>
<polygon points="175.64,161.53 177.74,157.33 173.54,157.33" fill="#000"/>
<polygon points="175.23,155.37 177.64,157.79 175.23,160.20 172.81,157.79" fill="#000"/>
<rect x="173.94" y="156.87" width="4.20" height="4.20" fill="#fff" stroke="#000" stroke-width="0.6"/>
<rect x="173.94" y="156.87" width="4.20" height="2.10" fill="#000"/>
<circle cx="175.99" cy="157.99" r="2.10" fill="#000"/>
<rect x="173.33" y="156.19" width="4.20" height="4.20" fill="#000"/>
<polygon points="174.22,156.96 176.32,161.16 172.12,161.16" fill="#000"/>
<polygon points="175.83,160.28 177.93,156.08 173.73,156.08" fill="#000"/>
<circle cx="173.95" cy="157.90" r="2.10" fill="#000"/>
<polygon points="174.49,157.53 175.08,158.72 176.39,158.91 175.44,159.84 175.66,161.14 174.49,160.53 173.32,161.14 173.54,159.84 172.59,158.91 173.91,158.72" fill="#000"/>
<rect x="173.14" y="155.64" width="4.20" height="4.20" fill="#000"/>
<polygon points="173.99,156.68 176.41,159.09 173.99,161.51 171.58,159.09" fill="#000"/>
<circle cx="177.13" cy="159.39" r="2.10" fill="#000"/>
<rect x="192.19" y="155.85" width="3.60" height="3.60" fill="#f0f0f0" stroke="#808080" stroke-width="0.7"/>
<line x1="192.19" y1="155.85" x2="195.79" y2="159.45" stroke="#808080" stroke-width="0.6"/>
<line x1="192.19" y1="159.45" x2="195.79" y2="155.85" stroke="#808080" stroke-width="0.6"/>
<rect x="189.61" y="154.67" width="3.60" height="3.60" fill="#fff" stroke="#808080" stroke-width="0.7"/>
<circle cx="190.80" cy="159.19" r="1.80" fill="#e2e2e2" stroke="#808080" stroke-width="0.7"/>
<circle cx="190.80" cy="159.19" r="0.63" fill="#808080"/>
<circle cx="191.26" cy="155.80" r="1.80" fill="#cfcfcf" stroke="#808080" stroke-width="0.7"/>
<circle cx="191.26" cy="155.80" r="0.81" fill="#777"/>
<rect x="191.17" y="156.80" width="4.20" height="4.20" fill="#000"/>
<polygon points="191.82,155.43 193.92,159.63 189.72,159.63" fill="#000"/>
<polygon points="194.05,161.13 196.15,156.93 191.95,156.93" fill="#000"/>
<polygon points="189.38,155.36 191.80,157.78 189.38,160.19 186.97,157.78" fill="#000"/>
<rect x="192.78" y="155.75" width="4.20" height="4.20" fill="#fff" stroke="#000" stroke-width="0.6"/>
<rect x="192.78" y="155.75" width="4.20" height="2.10" fill="#000"/>
<circle cx="189.51" cy="158.74" r="2.10" fill="#000"/>
<rect x="189.41" y="156.88" width="4.20" height="4.20" fill="#000"/>
<polygon points="189.66,156.93 191.76,161.13 187.56,161.13" fill="#000"/>
<polygon points="193.33,160.01 195.43,155.81 191.23,155.81" fill="#000"/>
<circle cx="190.88" cy="158.89" r="2.10" fill="#000"/>
<polygon points="190.81,156.92 191.40,158.11 192.71,158.30 191.76,159.22 191.99,160.53 190.81,159.91 189.64,160.53 189.87,159.22 188.92,158.30 190.23,158.11" fill="#000"/>
<rect x="188.95" y="156.57" width="4.20" height="4.20" fill="#000"/>
<polygon points="189.53,155.44 191.94,157.85 189.53,160.27 187.11,157.85" fill="#000"/>
<circle cx="189.33" cy="158.00" r="2.10" fill="#000"/>
<rect x="188.79" y="155.99" width="4.20" height="4.20" fill="#000"/>
<polygon points="192.26,154.99 194.36,159.19 190.16,159.19" fill="#000"/>
<polygon points="192.01,160.59 194.11,156.39 189.91,156.39" fill="#000"/>
<polygon points="189.80,155.79 192.22,158.21 189.80,160.62 187.39,158.21" fill="#000"/>
<rect x="187.20" y="155.68" width="4.20" height="4.20" fill="#fff" stroke="#000" stroke-width="0.6"/>
<rect x="187.20" y="155.68" width="4.20" height="2.10" fill="#000"/>
<circle cx="190.47" cy="157.36" r="2.10" fill="#000"/>
<rect x="192.13" y="156.57" width="4.20" height="4.20" fill="#000"/>
<polygon points="192.31,155.84 194.41,160.04 190.21,160.04" fill="#000"/>
<polygon points="194.44,160.94 196.54,156.74 192.34,156.74" fill="#000"/>
<circle cx="192.83" cy="158.08" r="2.10" fill="#000"/>
<polygon points="191.31,155.94 191.90,157.13 193.21,157.32 192.26,158.24 192.48,159.55 191.31,158.93 190.14,159.55 190.36,158.24 189.41,157.32 190.72,157.13" fill="#000"/>
<rect x="189.93" y="155.16" width="4.20" height="4.20" fill="#000"/>
<polygon points="192.14,156.49 194.56,158.90 192.14,161.32 189.73,158.90" fill="#000"/>
<circle cx="192.32" cy="157.37" r="2.10" fill="#000"/>
<line x1="206.55" y1="150.49" x2="210.15" y2="154.09" stroke="#808080" stroke-width="0.7"/>
<line x1="206.55" y1="154.09" x2="210.15" y2="150.49" stroke="#808080" stroke-width="0.7"/>
<rect x="204.78" y="155.84" width="3.60" height="3.60" fill="#f0f0f0" stroke="#808080" stroke-width="0.7"/>
<line x1="204.78" y1="155.84" x2="208.38" y2="159.44" stroke="#808080" stroke-width="0.6"/>
<line x1="204.78" y1="159.44" x2="208.38" y2="155.84" stroke="#808080" stroke-width="0.6"/>
<rect x="205.83" y="150.96" width="3.60" height="3.60" fill="#e6e6e6" stroke="#808080" stroke-width="0.7"/>
<circle cx="210.27" cy="152.54" r="1.80" fill="#cfcfcf" stroke="#808080" stroke-width="0.7"/>
<circle cx="210.27" cy="152.54" r="0.81" fill="#777"/>
<rect x="208.62" y="153.39" width="4.20" height="4.20" fill="#000"/>
<polygon points="208.27,153.56 210.37,157.76 206.17,157.76" fill="#000"/>
<polygon points="208.75,157.02 210.85,152.82 206.65,152.82" fill="#000"/>
<polygon points="208.04,155.32 210.46,157.73 208.04,160.15 205.63,157.73" fill="#000"/>
<rect x="208.16" y="156.54" width="4.20" height="4.20" fill="#fff" stroke="#000" stroke-width="0.6"/>
<rect x="208.16" y="156.54" width="4.20" height="2.10" fill="#000"/>
<circle cx="210.44" cy="156.92" r="2.10" fill="#000"/>
<rect x="207.55" y="155.84" width="4.20" height="4.20" fill="#000"/>
<polygon points="208.23,155.49 210.33,159.69 206.13,159.69" fill="#000"/>
<polygon points="209.68,158.99 211.78,154.79 207.58,154.79" fill="#000"/>
<circle cx="208.95" cy="157.76" r="2.10" fill="#000"/>
<polygon points="208.13,153.32 208.72,154.50 210.03,154.69 209.08,155.62 209.31,156.93 208.13,156.31 206.96,156.93 207.19,155.62 206.24,154.69 207.55,154.50" fill="#000"/>
<rect x="207.32" y="155.44" width="4.20" height="4.20" fill="#000"/>
<polygon points="207.70,155.05 210.12,157.47 207.70,159.88 205.29,157.47" fill="#000"/>
<circle cx="209.53" cy="156.75" r="2.10" fill="#000"/>
<rect x="207.77" y="155.55" width="4.20" height="4.20" fill="#000"/>
<polygon points="209.40,156.04 211.50,160.24 207.30,160.24" fill="#000"/>
<polygon points="208.88,157.29 210.98,153.09 206.78,153.09" fill="#000"/>
<polygon points="209.34,155.60 211.76,158.02 209.34,160.43 206.93,158.02" fill="#000"/>
<rect x="206.94" y="155.87" width="4.20" height="4.20" fill="#fff" stroke="#000" stroke-width="0.6"/>
<rect x="206.94" y="155.87" width="4.20" height="2.10" fill="#000"/>
<circle cx="209.25" cy="155.67" r="2.10" fill="#000"/>
<rect x="205.35" y="154.25" width="4.20" height="4.20" fill="#000"/>
<polygon points="208.18,155.06 210.28,159.26 206.08,159.26" fill="#000"/>
<polygon points="210.67,157.61 212.77,153.41 208.57,153.41" fill="#000"/>
<circle cx="208.38" cy="158.48" r="2.10" fill="#000"/>
<polygon points="210.56,154.56 211.14,155.75 212.45,155.94 211.50,156.86 211.73,158.17 210.56,157.55 209.38,158.17 209.61,156.86 208.66,155.94 209.97,155.75" fill="#000"/>
<rect x="207.18" y="155.42" width="4.20" height="4.20" fill="#000"/>
<polygon points="210.91,153.89 213.33,156.31 210.91,158.72 208.50,156.31" fill="#000"/>
<circle cx="208.10" cy="158.15" r="2.10" fill="#000"/>
<circle cx="225.03" cy="64.21" r="1.80" fill="#eee" stroke="#aaa" stroke-width="0.7"/>
<rect x="225.98" y="67.07" width="3.60" height="3.60" fill="#f0f0f0" stroke="#808080" stroke-width="0.7"/>
<line x1="225.98" y1="67.07" x2="229.58" y2="70.67" stroke="#808080" stroke-width="0.6"/>
<line x1="225.98" y1="70.67" x2="229.58" y2="67.07" stroke="#808080" stroke-width="0.6"/>
<polygon points="226.16,70.05 227.96,73.65 224.36,73.65" fill="#fff" stroke="#808080" stroke-width="0.7"/>
<circle cx="222.91" cy="65.28" r="1.80" fill="#e2e2e2" stroke="#808080" stroke-width="0.7"/>
<circle cx="222.91" cy="65.28" r="0.63" fill="#808080"/>
<rect x="225.82" y="64.79" width="4.20" height="4.20" fill="#000"/>
<polygon points="225.28,64.49 227.38,68.69 223.18,68.69" fill="#000"/>
<polygon points="226.41,68.92 228.51,64.72 224.31,64.72" fill="#000"/>
<polygon points="227.57,60.54 229.99,62.96 227.57,65.37 225.16,62.96" fill="#000"/>
<rect x="224.67" y="63.64" width="4.20" height="4.20" fill="#fff" stroke="#000" stroke-width="0.6"/>
<rect x="224.67" y="63.64" width="4.20" height="2.10" fill="#000"/>
<circle cx="226.09" cy="71.10" r="2.10" fill="#000"/>
<rect x="225.97" y="66.84" width="4.20" height="4.20" fill="#000"/>
<polygon points="223.58,65.83 225.68,70.03 221.48,70.03" fill="#000"/>
<polygon points="224.07,66.76 226.17,62.56 221.97,62.56" fill="#000"/>
<circle cx="225.54" cy="71.09" r="2.10" fill="#000"/>
<polygon points="223.96,67.33 224.54,68.52 225.85,68.71 224.90,69.63 225.13,70.94 223.96,70.32 222.78,70.94 223.01,69.63 222.06,68.71 223.37,68.52" fill="#000"/>
<rect x="226.55" y="67.30" width="4.20" height="4.20" fill="#000"/>
<polygon points="226.96,68.06 229.38,70.47 226.96,72.89 224.55,70.47" fill="#000"/>
<circle cx="225.25" cy="66.69" r="2.10" fill="#000"/>
<rect x="225.11" y="62.53" width="4.20" height="4.20" fill="#000"/>
<polygon points="226.10,66.15 228.20,70.35 224.00,70.35" fill="#000"/>
<polygon points="225.71,72.23 227.81,68.03 223.61,68.03" fill="#000"/>
<polygon points="226.02,61.73 228.43,64.15 226.02,66.56 223.60,64.15" fill="#000"/>
<rect x="223.93" y="63.44" width="4.20" height="4.20" fill="#fff" stroke="#000" stroke-width="0.6"/>
<rect x="223.93" y="63.44" width="4.20" height="2.10" fill="#000"/>
<circle cx="224.83" cy="69.04" r="2.10" fill="#000"/>
<rect x="226.92" y="63.98" width="4.20" height="4.20" fill="#000"/>
<polygon points="226.21,64.45 228.31,68.65 224.11,68.65" fill="#000"/>
<polygon points="224.62,71.97 226.72,67.77 222.52,67.77" fill="#000"/>
<circle cx="226.57" cy="70.65" r="2.10" fill="#000"/>
<polygon points="226.11,65.13 226.70,66.32 228.01,66.51 227.06,67.44 227.28,68.74 226.11,68.13 224.94,68.74 225.16,67.44 224.21,66.51 225.52,66.32" fill="#000"/>
<rect x="226.93" y="64.67" width="4.20" height="4.20" fill="#000"/>
<polygon points="227.02,68.27 229.44,70.69 227.02,73.10 224.61,70.69" fill="#000"/>
<circle cx="225.95" cy="69.89" r="2.10" fill="#000"/>
<circle cx="36.00" cy="146.00" r="1.80" fill="#cfcfcf" stroke="#808080" stroke-width="0.7"/>
<circle cx="36.00" cy="146.00" r="0.81" fill="#777"/>
<polygon points="36.50,148.66 38.34,150.50 36.50,152.34 34.66,150.50" fill="#e0e0e0" stroke="#808080" stroke-width="0.7"/>
<polygon points="55.60,143.31 57.79,145.50 55.60,147.69 53.41,145.50" fill="#e0e0e0" stroke="#808080" stroke-width="0.7"/>
<circle cx="53.00" cy="147.00" r="1.50" fill="#e2e2e2" stroke="#808080" stroke-width="0.7"/>
<circle cx="53.00" cy="147.00" r="0.52" fill="#808080"/>
<polygon points="72.80,150.84 74.75,152.80 72.80,154.76 70.84,152.80" fill="#e0e0e0" stroke="#808080" stroke-width="0.7"/>
<circle cx="86.60" cy="155.20" r="1.70" fill="#fff" stroke="#808080" stroke-width="0.7"/>
<rect x="101.50" y="154.30" width="3.80" height="3.80" fill="#fff" stroke="#808080" stroke-width="0.7"/>
<rect x="120.20" y="135.20" width="2.60" height="2.60" fill="#fff" stroke="#808080" stroke-width="0.7"/>
<line x1="123.00" y1="139.00" x2="126.00" y2="142.00" stroke="#808080" stroke-width="0.7"/>
<line x1="123.00" y1="142.00" x2="126.00" y2="139.00" stroke="#808080" stroke-width="0.7"/>
<polygon points="126.50,132.70 127.80,135.30 125.20,135.30" fill="#fff" stroke="#808080" stroke-width="0.7"/>
<circle cx="206.20" cy="152.20" r="2.00" fill="#fff" stroke="#808080" stroke-width="0.7"/>
<circle cx="212.40" cy="152.80" r="1.80" fill="#fff" stroke="#808080" stroke-width="0.7"/>
<circle cx="195.50" cy="156.00" r="1.70" fill="#fff" stroke="#808080" stroke-width="0.7"/>
<polygon points="173.00,154.50 174.50,157.50 171.50,157.50" fill="#fff" stroke="#808080" stroke-width="0.7"/>
<line x1="153.60" y1="150.60" x2="156.40" y2="153.40" stroke="#808080" stroke-width="0.7"/>
<line x1="153.60" y1="153.40" x2="156.40" y2="150.60" stroke="#808080" stroke-width="0.7"/>
<polygon points="160.50,149.70 161.80,152.30 159.20,152.30" fill="#fff" stroke="#808080" stroke-width="0.7"/>
<polygon points="223.60,75.20 225.60,71.20 221.60,71.20" fill="#000"/>
<rect x="226.10" y="71.70" width="4.20" height="4.20" fill="#000"/>
<polygon points="223.80,74.73 225.87,76.80 223.80,78.87 221.73,76.80" fill="#000"/>
<rect x="225.20" y="75.70" width="3.60" height="3.60" fill="#fff" stroke="#808080" stroke-width="0.7"/>
<circle cx="226.00" cy="80.00" r="1.80" fill="#cfcfcf" stroke="#808080" stroke-width="0.7"/>
<circle cx="226.00" cy="80.00" r="0.81" fill="#777"/>
<circle cx="228.00" cy="81.50" r="1.60" fill="#e2e2e2" stroke="#808080" stroke-width="0.7"/>
<circle cx="228.00" cy="81.50" r="0.56" fill="#808080"/>
<circle cx="225.50" cy="82.50" r="1.50" fill="#eee" stroke="#aaa" stroke-width="0.7"/>
<rect x="228.10" y="62.10" width="2.80" height="2.80" fill="#fff" stroke="#808080" stroke-width="0.7"/>
<polygon points="225.00,61.20 226.30,63.80 223.70,63.80" fill="#fff" stroke="#808080" stroke-width="0.7"/>
<circle cx="41.20" cy="142.40" r="2.30" fill="#000"/>
<circle cx="72.80" cy="147.50" r="2.30" fill="#000"/>
<circle cx="124.00" cy="131.00" r="2.20" fill="#000"/>
<polygon points="158.00,138.90 160.30,141.20 158.00,143.50 155.70,141.20" fill="#e0e0e0" stroke="#808080" stroke-width="0.7"/>
<rect x="190.30" y="127.10" width="4.20" height="4.20" fill="#fff" stroke="#000" stroke-width="0.6"/>
<rect x="192.40" y="127.10" width="2.10" height="4.20" fill="#000"/>
<polygon points="192.20,142.50 192.79,143.69 194.10,143.88 193.15,144.81 193.37,146.11 192.20,145.50 191.03,146.11 191.25,144.81 190.30,143.88 191.61,143.69" fill="#000"/>
<polygon points="192.40,148.41 194.59,150.60 192.40,152.78 190.22,150.60" fill="#e0e0e0" stroke="#808080" stroke-width="0.7"/>
<polygon points="226.90,88.40 228.90,92.40 224.90,92.40" fill="#000"/>
<circle cx="226.20" cy="160.80" r="2.10" fill="#000"/>
<polygon points="55.58,54.95 56.11,56.03 57.30,56.20 56.44,57.04 56.64,58.22 55.58,57.66 54.52,58.22 54.72,57.04 53.86,56.20 55.05,56.03" fill="#000"/>
<circle cx="55.58" cy="56.76" r="6.10" fill="none" stroke="#000" stroke-width="1.25"/>
<polygon points="38.40,89.96 39.20,91.05 40.48,91.47 39.69,92.57 39.68,93.91 38.40,93.50 37.12,93.91 37.11,92.57 36.32,91.47 37.60,91.05" fill="#6e6e6e"/>
<polygon points="55.48,131.59 56.28,132.68 57.56,133.10 56.77,134.20 56.76,135.55 55.48,135.13 54.20,135.55 54.19,134.20 53.40,133.10 54.68,132.68" fill="#6e6e6e"/>
<polygon points="72.56,53.53 73.36,54.62 74.64,55.04 73.85,56.14 73.84,57.49 72.56,57.07 71.28,57.49 71.27,56.14 70.48,55.04 71.76,54.62" fill="#6e6e6e"/>
<polygon points="89.64,45.73 90.44,46.82 91.72,47.24 90.93,48.33 90.92,49.68 89.64,49.27 88.36,49.68 88.35,48.33 87.56,47.24 88.84,46.82" fill="#6e6e6e"/>
<polygon points="106.72,88.01 107.52,89.10 108.80,89.52 108.01,90.61 108.00,91.96 106.72,91.55 105.44,91.96 105.43,90.61 104.64,89.52 105.92,89.10" fill="#6e6e6e"/>
<polygon points="123.80,69.80 124.60,70.89 125.88,71.31 125.09,72.40 125.08,73.75 123.80,73.34 122.52,73.75 122.51,72.40 121.72,71.31 123.00,70.89" fill="#6e6e6e"/>
<polygon points="140.88,138.75 141.68,139.84 142.96,140.26 142.17,141.35 142.16,142.70 140.88,142.29 139.60,142.70 139.59,141.35 138.80,140.26 140.08,139.84" fill="#6e6e6e"/>
<polygon points="157.96,37.92 158.76,39.01 160.04,39.43 159.25,40.53 159.24,41.87 157.96,41.46 156.68,41.87 156.67,40.53 155.88,39.43 157.16,39.01" fill="#6e6e6e"/>
<polygon points="175.04,39.87 175.84,40.96 177.12,41.38 176.33,42.48 176.32,43.83 175.04,43.41 173.76,43.83 173.75,42.48 172.96,41.38 174.24,40.96" fill="#6e6e6e"/>
<polygon points="192.12,68.50 192.92,69.58 194.20,70.01 193.41,71.10 193.40,72.45 192.12,72.04 190.84,72.45 190.83,71.10 190.04,70.01 191.32,69.58" fill="#6e6e6e"/>
<polygon points="209.20,47.68 210.00,48.77 211.28,49.19 210.49,50.28 210.48,51.63 209.20,51.22 207.92,51.63 207.91,50.28 207.12,49.19 208.40,48.77" fill="#6e6e6e"/>
<polygon points="226.28,114.03 227.08,115.12 228.36,115.54 227.57,116.63 227.56,117.98 226.28,117.57 225.00,117.98 224.99,116.63 224.20,115.54 225.48,115.12" fill="#6e6e6e"/>
<polygon points="241.50,5.50 242.03,6.57 243.22,6.74 242.36,7.58 242.56,8.76 241.50,8.20 240.44,8.76 240.64,7.58 239.78,6.74 240.97,6.57" fill="#000"/>
<text transform="translate(247.60,9.40) scale(0.960,1)" font-size="5.8" text-anchor="start" fill="#000">TMG-1</text>
<rect x="239.55" y="13.49" width="3.90" height="3.90" fill="#000"/>
<text transform="translate(247.60,17.54) scale(0.960,1)" font-size="5.8" text-anchor="start" fill="#000">TMG-2</text>
<polygon points="241.50,21.63 243.45,25.53 239.55,25.53" fill="#000"/>
<text transform="translate(247.60,25.68) scale(0.960,1)" font-size="5.8" text-anchor="start" fill="#000">TMG-3</text>
<polygon points="241.50,33.67 243.45,29.77 239.55,29.77" fill="#000"/>
<text transform="translate(247.60,33.82) scale(0.960,1)" font-size="5.8" text-anchor="start" fill="#000">TMG-4</text>
<polygon points="241.50,37.91 243.46,39.86 241.50,41.81 239.54,39.86" fill="#000"/>
<text transform="translate(247.60,41.96) scale(0.960,1)" font-size="5.8" text-anchor="start" fill="#000">TMG-5</text>
<circle cx="241.50" cy="48.00" r="1.95" fill="#fff" stroke="#808080" stroke-width="0.7"/>
<text transform="translate(247.60,50.10) scale(0.960,1)" font-size="5.8" text-anchor="start" fill="#000">TMG-6</text>
<rect x="239.55" y="54.19" width="3.90" height="3.90" fill="#fff" stroke="#808080" stroke-width="0.7"/>
<text transform="translate(247.60,58.24) scale(0.960,1)" font-size="5.8" text-anchor="start" fill="#000">TMG-7</text>
<polygon points="241.50,62.33 243.45,66.23 239.55,66.23" fill="#fff" stroke="#808080" stroke-width="0.7"/>
<text transform="translate(247.60,66.38) scale(0.960,1)" font-size="5.8" text-anchor="start" fill="#000">TMG-8</text>
<circle cx="241.50" cy="72.42" r="1.95" fill="#e2e2e2" stroke="#808080" stroke-width="0.7"/>
<circle cx="241.50" cy="72.42" r="0.68" fill="#808080"/>
<text transform="translate(247.60,74.52) scale(0.960,1)" font-size="5.8" text-anchor="start" fill="#000">TMG-9</text>
<circle cx="241.50" cy="80.56" r="1.95" fill="#cfcfcf" stroke="#808080" stroke-width="0.7"/>
<circle cx="241.50" cy="80.56" r="0.88" fill="#777"/>
<text transform="translate(247.60,82.66) scale(0.960,1)" font-size="5.8" text-anchor="start" fill="#000">TMG-10</text>
<rect x="239.55" y="86.75" width="3.90" height="3.90" fill="#e6e6e6" stroke="#808080" stroke-width="0.7"/>
<text transform="translate(247.60,90.80) scale(0.960,1)" font-size="5.8" text-anchor="start" fill="#000">TMG-11</text>
<polygon points="241.50,94.89 243.46,96.84 241.50,98.80 239.54,96.84" fill="#e0e0e0" stroke="#808080" stroke-width="0.7"/>
<text transform="translate(247.60,98.94) scale(0.960,1)" font-size="5.8" text-anchor="start" fill="#000">DMSO</text>
<rect x="239.55" y="103.03" width="3.90" height="3.90" fill="#f0f0f0" stroke="#808080" stroke-width="0.7"/>
<line x1="239.55" y1="103.03" x2="243.45" y2="106.93" stroke="#808080" stroke-width="0.6"/>
<line x1="239.55" y1="106.93" x2="243.45" y2="103.03" stroke="#808080" stroke-width="0.6"/>
<text transform="translate(247.60,107.08) scale(0.960,1)" font-size="5.8" text-anchor="start" fill="#000">PP-1</text>
<polygon points="241.50,111.25 243.37,113.12 241.50,114.99 239.63,113.12" fill="#a8a8a8" stroke="#808080" stroke-width="0.6"/>
<text transform="translate(247.60,115.22) scale(0.960,1)" font-size="5.8" text-anchor="start" fill="#000">PP-2</text>
<circle cx="241.50" cy="121.26" r="1.95" fill="#fff" stroke="#777" stroke-width="0.8"/>
<text transform="translate(247.60,123.36) scale(0.960,1)" font-size="5.8" text-anchor="start" fill="#000">PP-3</text>
<line x1="239.55" y1="127.45" x2="243.45" y2="131.35" stroke="#808080" stroke-width="0.7"/>
<line x1="239.55" y1="131.35" x2="243.45" y2="127.45" stroke="#808080" stroke-width="0.7"/>
<text transform="translate(247.60,131.50) scale(0.960,1)" font-size="5.8" text-anchor="start" fill="#000">PP-4</text>
<rect x="239.55" y="135.59" width="3.90" height="3.90" fill="#fff" stroke="#000" stroke-width="0.6"/>
<rect x="239.55" y="135.59" width="3.90" height="1.95" fill="#000"/>
<text transform="translate(247.60,139.64) scale(0.960,1)" font-size="5.8" text-anchor="start" fill="#000">PP-5</text>
<rect x="239.55" y="143.73" width="3.90" height="3.90" fill="#fff" stroke="#000" stroke-width="0.6"/>
<rect x="241.50" y="143.73" width="1.95" height="3.90" fill="#000"/>
<text transform="translate(247.60,147.78) scale(0.960,1)" font-size="5.8" text-anchor="start" fill="#000">PP-6</text>
<polygon points="241.50,151.87 243.45,155.77 239.55,155.77" fill="#fff" stroke="#000" stroke-width="0.5"/>
<polygon points="241.50,151.87 241.50,155.77 239.55,155.77" fill="#000"/>
<text transform="translate(247.60,155.92) scale(0.960,1)" font-size="5.8" text-anchor="start" fill="#000">PP-7</text>
<polygon points="241.50,163.91 243.45,160.01 239.55,160.01" fill="#fff" stroke="#000" stroke-width="0.5"/>
<polygon points="241.50,163.91 243.45,160.01 241.50,160.01" fill="#000"/>
<text transform="translate(247.60,164.06) scale(0.960,1)" font-size="5.8" text-anchor="start" fill="#000">PP-8</text>
<polygon points="241.50,168.15 243.45,170.10 241.50,172.05 239.55,170.10" fill="#fff" stroke="#000" stroke-width="0.5"/>
<polygon points="241.50,168.15 243.45,170.10 241.50,172.05" fill="#000"/>
<text transform="translate(247.60,172.20) scale(0.960,1)" font-size="5.8" text-anchor="start" fill="#000">PP-9</text>
<circle cx="241.50" cy="178.24" r="1.95" fill="#eee" stroke="#aaa" stroke-width="0.7"/>
<text transform="translate(247.60,180.34) scale(0.960,1)" font-size="5.8" text-anchor="start" fill="#000">PP-10</text>
<circle cx="241.50" cy="186.38" r="1.95" fill="#000"/>
<text transform="translate(247.60,188.48) scale(0.960,1)" font-size="5.8" text-anchor="start" fill="#000">Alone</text>
<polygon points="241.50,192.68 242.17,193.60 243.25,193.95 242.58,194.87 242.58,196.01 241.50,195.66 240.42,196.01 240.42,194.87 239.75,193.95 240.83,193.60" fill="#6e6e6e"/>
<text transform="translate(247.60,196.62) scale(0.960,1)" font-size="5.8" text-anchor="start" fill="#000">OKT3</text>
<text class=big transform="translate(275.60,14.00)" font-size="17.5" text-anchor="start" fill="#000">B</text>
<line x1="308.60" y1="29.80" x2="308.60" y2="161.60" stroke="#000" stroke-width="1.4"/>
<line x1="307.90" y1="161.00" x2="520.00" y2="161.00" stroke="#000" stroke-width="1.4"/>
<line x1="305.80" y1="161.00" x2="308.60" y2="161.00" stroke="#000" stroke-width="1.1"/>
<text transform="translate(306.00,163.80) scale(0.990,1)" font-size="6.3" text-anchor="end" fill="#000">0</text>
<line x1="305.80" y1="134.88" x2="308.60" y2="134.88" stroke="#000" stroke-width="1.1"/>
<text transform="translate(306.00,137.68) scale(0.990,1)" font-size="6.3" text-anchor="end" fill="#000">100</text>
<line x1="305.80" y1="108.76" x2="308.60" y2="108.76" stroke="#000" stroke-width="1.1"/>
<text transform="translate(306.00,111.56) scale(0.990,1)" font-size="6.3" text-anchor="end" fill="#000">200</text>
<line x1="305.80" y1="82.64" x2="308.60" y2="82.64" stroke="#000" stroke-width="1.1"/>
<text transform="translate(306.00,85.44) scale(0.990,1)" font-size="6.3" text-anchor="end" fill="#000">300</text>
<line x1="305.80" y1="56.52" x2="308.60" y2="56.52" stroke="#000" stroke-width="1.1"/>
<text transform="translate(306.00,59.32) scale(0.990,1)" font-size="6.3" text-anchor="end" fill="#000">400</text>
<line x1="305.80" y1="30.40" x2="308.60" y2="30.40" stroke="#000" stroke-width="1.1"/>
<text transform="translate(306.00,33.20) scale(1.050,1)" font-size="6.3" text-anchor="end" fill="#000">&gt;500</text>
<text transform="translate(289.00,94.20) rotate(-90) scale(1.112,1)" font-size="7.3" text-anchor="middle" fill="#000">IFNγ (spots/2e4 cells)</text>
<line x1="318.00" y1="161.00" x2="318.00" y2="163.00" stroke="#000" stroke-width="1.1"/>
<rect x="313.30" y="30.40" width="9.40" height="130.60" fill="#000"/>
<text transform="translate(319.30,168.20) rotate(-45) scale(1.080,1)" font-size="6.2" text-anchor="end" fill="#000">TMG1</text>
<line x1="332.67" y1="161.00" x2="332.67" y2="163.00" stroke="#000" stroke-width="1.1"/>
<rect x="327.97" y="160.48" width="9.40" height="0.52" fill="#000"/>
<text transform="translate(333.97,168.20) rotate(-45) scale(1.080,1)" font-size="6.2" text-anchor="end" fill="#000">TMG2</text>
<line x1="347.34" y1="161.00" x2="347.34" y2="163.00" stroke="#000" stroke-width="1.1"/>
<text transform="translate(348.64,168.20) rotate(-45) scale(1.080,1)" font-size="6.2" text-anchor="end" fill="#000">TMG3</text>
<line x1="362.01" y1="161.00" x2="362.01" y2="163.00" stroke="#000" stroke-width="1.1"/>
<text transform="translate(363.31,168.20) rotate(-45) scale(1.080,1)" font-size="6.2" text-anchor="end" fill="#000">TMG4</text>
<line x1="376.68" y1="161.00" x2="376.68" y2="163.00" stroke="#000" stroke-width="1.1"/>
<text transform="translate(377.98,168.20) rotate(-45) scale(1.080,1)" font-size="6.2" text-anchor="end" fill="#000">TMG5</text>
<line x1="391.35" y1="161.00" x2="391.35" y2="163.00" stroke="#000" stroke-width="1.1"/>
<text transform="translate(392.65,168.20) rotate(-45) scale(1.080,1)" font-size="6.2" text-anchor="end" fill="#000">TMG6</text>
<line x1="406.02" y1="161.00" x2="406.02" y2="163.00" stroke="#000" stroke-width="1.1"/>
<rect x="401.32" y="160.74" width="9.40" height="0.26" fill="#000"/>
<text transform="translate(407.32,168.20) rotate(-45) scale(1.080,1)" font-size="6.2" text-anchor="end" fill="#000">TMG7</text>
<line x1="420.69" y1="161.00" x2="420.69" y2="163.00" stroke="#000" stroke-width="1.1"/>
<text transform="translate(421.99,168.20) rotate(-45) scale(1.080,1)" font-size="6.2" text-anchor="end" fill="#000">TMG8</text>
<line x1="435.36" y1="161.00" x2="435.36" y2="163.00" stroke="#000" stroke-width="1.1"/>
<text transform="translate(436.66,168.20) rotate(-45) scale(1.080,1)" font-size="6.2" text-anchor="end" fill="#000">TMG9</text>
<line x1="450.03" y1="161.00" x2="450.03" y2="163.00" stroke="#000" stroke-width="1.1"/>
<text transform="translate(451.33,168.20) rotate(-45) scale(1.080,1)" font-size="6.2" text-anchor="end" fill="#000">TMG10</text>
<line x1="464.70" y1="161.00" x2="464.70" y2="163.00" stroke="#000" stroke-width="1.1"/>
<text transform="translate(466.00,168.20) rotate(-45) scale(1.080,1)" font-size="6.2" text-anchor="end" fill="#000">TMG11</text>
<line x1="479.37" y1="161.00" x2="479.37" y2="163.00" stroke="#000" stroke-width="1.1"/>
<text transform="translate(480.67,168.20) rotate(-45) scale(1.080,1)" font-size="6.2" text-anchor="end" fill="#000">DMSO</text>
<line x1="494.04" y1="161.00" x2="494.04" y2="163.00" stroke="#000" stroke-width="1.1"/>
<text transform="translate(495.34,168.20) rotate(-45) scale(1.080,1)" font-size="6.2" text-anchor="end" fill="#000">TIL alone</text>
<line x1="508.71" y1="161.00" x2="508.71" y2="163.00" stroke="#000" stroke-width="1.1"/>
<rect x="504.01" y="118.69" width="9.40" height="42.31" fill="#000"/>
<text transform="translate(510.01,168.20) rotate(-45) scale(1.080,1)" font-size="6.2" text-anchor="end" fill="#000">OKT3</text>
<text class=big transform="translate(1.40,209.20)" font-size="17.5" text-anchor="start" fill="#000">C</text>
<line x1="29.90" y1="221.40" x2="29.90" y2="352.90" stroke="#2a2a2a" stroke-width="1.25"/>
<line x1="29.30" y1="352.30" x2="268.00" y2="352.30" stroke="#2a2a2a" stroke-width="1.3"/>
<line x1="27.30" y1="352.30" x2="29.90" y2="352.30" stroke="#2a2a2a" stroke-width="1"/>
<text transform="translate(27.00,354.80) scale(0.981,1)" font-size="6.6" text-anchor="end" fill="#000">0</text>
<line x1="27.30" y1="326.24" x2="29.90" y2="326.24" stroke="#2a2a2a" stroke-width="1"/>
<text transform="translate(27.00,328.74) scale(0.981,1)" font-size="6.6" text-anchor="end" fill="#000">100</text>
<line x1="27.30" y1="300.18" x2="29.90" y2="300.18" stroke="#2a2a2a" stroke-width="1"/>
<text transform="translate(27.00,302.68) scale(0.981,1)" font-size="6.6" text-anchor="end" fill="#000">200</text>
<line x1="27.30" y1="274.12" x2="29.90" y2="274.12" stroke="#2a2a2a" stroke-width="1"/>
<text transform="translate(27.00,276.62) scale(0.981,1)" font-size="6.6" text-anchor="end" fill="#000">300</text>
<line x1="27.30" y1="248.06" x2="29.90" y2="248.06" stroke="#2a2a2a" stroke-width="1"/>
<text transform="translate(27.00,250.56) scale(0.981,1)" font-size="6.6" text-anchor="end" fill="#000">400</text>
<line x1="27.30" y1="222.00" x2="29.90" y2="222.00" stroke="#2a2a2a" stroke-width="1"/>
<text transform="translate(27.00,224.50) scale(1.002,1)" font-size="6.6" text-anchor="end" fill="#000">&gt;500</text>
<text transform="translate(7.20,284.60) rotate(-90) scale(1.066,1)" font-size="7.0" text-anchor="middle" fill="#000">IFNγ (spots/2e4 cells)</text>
<line x1="36.90" y1="352.30" x2="36.90" y2="354.90" stroke="#2a2a2a" stroke-width="1"/>
<rect x="33.15" y="347.61" width="7.50" height="4.69" fill="#000"/>
<text transform="translate(39.10,360.10) rotate(-45) scale(1.020,1)" font-size="6.5" text-anchor="end" fill="#000">C1orf159</text>
<line x1="47.58" y1="352.30" x2="47.58" y2="354.90" stroke="#2a2a2a" stroke-width="1"/>
<rect x="43.83" y="352.17" width="7.50" height="0.13" fill="#000"/>
<text transform="translate(49.78,360.10) rotate(-45) scale(1.020,1)" font-size="6.5" text-anchor="end" fill="#000">FBRSL1</text>
<line x1="58.26" y1="352.30" x2="58.26" y2="354.90" stroke="#2a2a2a" stroke-width="1"/>
<rect x="54.51" y="351.78" width="7.50" height="0.52" fill="#000"/>
<text transform="translate(60.46,360.10) rotate(-45) scale(1.020,1)" font-size="6.5" text-anchor="end" fill="#000">ACVR1B</text>
<line x1="68.94" y1="352.30" x2="68.94" y2="354.90" stroke="#2a2a2a" stroke-width="1"/>
<rect x="65.19" y="351.52" width="7.50" height="0.78" fill="#000"/>
<text transform="translate(71.14,360.10) rotate(-45) scale(1.020,1)" font-size="6.5" text-anchor="end" fill="#000">LIN7A</text>
<line x1="79.62" y1="352.30" x2="79.62" y2="354.90" stroke="#2a2a2a" stroke-width="1"/>
<rect x="75.87" y="347.87" width="7.50" height="4.43" fill="#000"/>
<text transform="translate(81.82,360.10) rotate(-45) scale(1.020,1)" font-size="6.5" text-anchor="end" fill="#000">TRPC4</text>
<line x1="90.30" y1="352.30" x2="90.30" y2="354.90" stroke="#2a2a2a" stroke-width="1"/>
<rect x="86.55" y="348.91" width="7.50" height="3.39" fill="#000"/>
<text transform="translate(92.50,360.10) rotate(-45) scale(1.020,1)" font-size="6.5" text-anchor="end" fill="#000">TTC21B</text>
<line x1="100.98" y1="352.30" x2="100.98" y2="354.90" stroke="#2a2a2a" stroke-width="1"/>
<rect x="97.23" y="350.74" width="7.50" height="1.56" fill="#000"/>
<text transform="translate(103.18,360.10) rotate(-45) scale(1.020,1)" font-size="6.5" text-anchor="end" fill="#000">BOLL</text>
<line x1="111.66" y1="352.30" x2="111.66" y2="354.90" stroke="#2a2a2a" stroke-width="1"/>
<rect x="107.91" y="351.26" width="7.50" height="1.04" fill="#000"/>
<text transform="translate(113.86,360.10) rotate(-45) scale(1.020,1)" font-size="6.5" text-anchor="end" fill="#000">ERBB4</text>
<line x1="122.34" y1="352.30" x2="122.34" y2="354.90" stroke="#2a2a2a" stroke-width="1"/>
<rect x="118.59" y="351.00" width="7.50" height="1.30" fill="#000"/>
<text transform="translate(124.54,360.10) rotate(-45) scale(1.020,1)" font-size="6.5" text-anchor="end" fill="#000">HCN1</text>
<line x1="133.02" y1="352.30" x2="133.02" y2="354.90" stroke="#2a2a2a" stroke-width="1"/>
<rect x="129.27" y="351.00" width="7.50" height="1.30" fill="#000"/>
<text transform="translate(135.22,360.10) rotate(-45) scale(1.020,1)" font-size="6.5" text-anchor="end" fill="#000">RGS22</text>
<line x1="143.70" y1="352.30" x2="143.70" y2="354.90" stroke="#2a2a2a" stroke-width="1"/>
<rect x="139.95" y="350.22" width="7.50" height="2.08" fill="#000"/>
<text transform="translate(145.90,360.10) rotate(-45) scale(1.020,1)" font-size="6.5" text-anchor="end" fill="#000">ZNF483</text>
<line x1="154.38" y1="352.30" x2="154.38" y2="354.90" stroke="#2a2a2a" stroke-width="1"/>
<rect x="150.63" y="349.17" width="7.50" height="3.13" fill="#000"/>
<text transform="translate(156.58,360.10) rotate(-45) scale(1.020,1)" font-size="6.5" text-anchor="end" fill="#000">USP11</text>
<line x1="165.06" y1="352.30" x2="165.06" y2="354.90" stroke="#2a2a2a" stroke-width="1"/>
<rect x="161.31" y="227.99" width="7.50" height="124.31" fill="#000"/>
<text transform="translate(167.26,360.10) rotate(-45) scale(1.020,1)" font-size="6.5" text-anchor="end" fill="#000">TP53</text>
<line x1="175.74" y1="352.30" x2="175.74" y2="354.90" stroke="#2a2a2a" stroke-width="1"/>
<rect x="171.99" y="350.74" width="7.50" height="1.56" fill="#000"/>
<text transform="translate(177.94,360.10) rotate(-45) scale(1.020,1)" font-size="6.5" text-anchor="end" fill="#000">MALRD1</text>
<line x1="186.42" y1="352.30" x2="186.42" y2="354.90" stroke="#2a2a2a" stroke-width="1"/>
<rect x="182.67" y="351.78" width="7.50" height="0.52" fill="#000"/>
<text transform="translate(188.62,360.10) rotate(-45) scale(1.020,1)" font-size="6.5" text-anchor="end" fill="#000">BCAR3</text>
<line x1="197.10" y1="352.30" x2="197.10" y2="354.90" stroke="#2a2a2a" stroke-width="1"/>
<rect x="193.35" y="352.04" width="7.50" height="0.26" fill="#000"/>
<text transform="translate(199.30,360.10) rotate(-45) scale(1.020,1)" font-size="6.5" text-anchor="end" fill="#000">RAX</text>
<line x1="207.78" y1="352.30" x2="207.78" y2="354.90" stroke="#2a2a2a" stroke-width="1"/>
<rect x="204.03" y="352.04" width="7.50" height="0.26" fill="#000"/>
<text transform="translate(209.98,360.10) rotate(-45) scale(1.020,1)" font-size="6.5" text-anchor="end" fill="#000">CAPN13</text>
<line x1="218.46" y1="352.30" x2="218.46" y2="354.90" stroke="#2a2a2a" stroke-width="1"/>
<rect x="214.71" y="324.16" width="7.50" height="28.14" fill="#000"/>
<text transform="translate(220.66,360.10) rotate(-45) scale(1.020,1)" font-size="6.5" text-anchor="end" fill="#000">PP1</text>
<line x1="229.14" y1="352.30" x2="229.14" y2="354.90" stroke="#2a2a2a" stroke-width="1"/>
<rect x="225.39" y="337.97" width="7.50" height="14.33" fill="#000"/>
<text transform="translate(231.34,360.10) rotate(-45) scale(1.020,1)" font-size="6.5" text-anchor="end" fill="#000">TMG 6</text>
<line x1="239.82" y1="352.30" x2="239.82" y2="354.90" stroke="#2a2a2a" stroke-width="1"/>
<rect x="236.07" y="280.63" width="7.50" height="71.67" fill="#000"/>
<text transform="translate(242.02,360.10) rotate(-45) scale(1.020,1)" font-size="6.5" text-anchor="end" fill="#000">TMG1</text>
<line x1="250.50" y1="352.30" x2="250.50" y2="354.90" stroke="#2a2a2a" stroke-width="1"/>
<text transform="translate(252.70,360.10) rotate(-45) scale(1.020,1)" font-size="6.5" text-anchor="end" fill="#000">TIL alone</text>
<line x1="261.18" y1="352.30" x2="261.18" y2="354.90" stroke="#2a2a2a" stroke-width="1"/>
<rect x="257.43" y="297.05" width="7.50" height="55.25" fill="#000"/>
<text transform="translate(263.38,360.10) rotate(-45) scale(1.020,1)" font-size="6.5" text-anchor="end" fill="#000">OKT3</text>
<text transform="translate(149.40,391.20) scale(1.053,1)" font-size="6.6" text-anchor="middle" fill="#000">Mutated peptides from TMG1</text>
<text class=big transform="translate(275.60,209.00)" font-size="17.5" text-anchor="start" fill="#000">D</text>
<line x1="312.90" y1="221.90" x2="312.90" y2="352.70" stroke="#2a2a2a" stroke-width="1.1"/>
<line x1="500.40" y1="221.90" x2="500.40" y2="352.70" stroke="#2a2a2a" stroke-width="1.1"/>
<line x1="312.40" y1="352.20" x2="500.90" y2="352.20" stroke="#2a2a2a" stroke-width="1.1"/>
<line x1="311.30" y1="352.20" x2="312.90" y2="352.20" stroke="#2a2a2a" stroke-width="0.9"/>
<text transform="translate(311.20,354.30) scale(1.049,1)" font-size="5.4" text-anchor="end" fill="#000">0</text>
<line x1="500.40" y1="352.20" x2="502.40" y2="352.20" stroke="#2a2a2a" stroke-width="0.9"/>
<text transform="translate(503.00,354.30) scale(0.916,1)" font-size="5.4" text-anchor="start" fill="#000">0</text>
<line x1="311.30" y1="326.24" x2="312.90" y2="326.24" stroke="#2a2a2a" stroke-width="0.9"/>
<text transform="translate(311.20,328.34) scale(1.049,1)" font-size="5.4" text-anchor="end" fill="#000">100</text>
<line x1="500.40" y1="326.24" x2="502.40" y2="326.24" stroke="#2a2a2a" stroke-width="0.9"/>
<text transform="translate(503.00,328.34) scale(0.916,1)" font-size="5.4" text-anchor="start" fill="#000">10</text>
<line x1="311.30" y1="300.28" x2="312.90" y2="300.28" stroke="#2a2a2a" stroke-width="0.9"/>
<text transform="translate(311.20,302.38) scale(1.049,1)" font-size="5.4" text-anchor="end" fill="#000">200</text>
<line x1="500.40" y1="300.28" x2="502.40" y2="300.28" stroke="#2a2a2a" stroke-width="0.9"/>
<text transform="translate(503.00,302.38) scale(0.916,1)" font-size="5.4" text-anchor="start" fill="#000">20</text>
<line x1="311.30" y1="274.32" x2="312.90" y2="274.32" stroke="#2a2a2a" stroke-width="0.9"/>
<text transform="translate(311.20,276.42) scale(1.049,1)" font-size="5.4" text-anchor="end" fill="#000">300</text>
<line x1="500.40" y1="274.32" x2="502.40" y2="274.32" stroke="#2a2a2a" stroke-width="0.9"/>
<text transform="translate(503.00,276.42) scale(0.916,1)" font-size="5.4" text-anchor="start" fill="#000">30</text>
<line x1="311.30" y1="248.36" x2="312.90" y2="248.36" stroke="#2a2a2a" stroke-width="0.9"/>
<text transform="translate(311.20,250.46) scale(1.049,1)" font-size="5.4" text-anchor="end" fill="#000">400</text>
<line x1="500.40" y1="248.36" x2="502.40" y2="248.36" stroke="#2a2a2a" stroke-width="0.9"/>
<text transform="translate(503.00,250.46) scale(0.916,1)" font-size="5.4" text-anchor="start" fill="#000">40</text>
<line x1="311.30" y1="222.40" x2="312.90" y2="222.40" stroke="#2a2a2a" stroke-width="0.9"/>
<text transform="translate(311.20,224.50) scale(1.052,1)" font-size="5.4" text-anchor="end" fill="#000">&gt;500</text>
<line x1="500.40" y1="222.40" x2="502.40" y2="222.40" stroke="#2a2a2a" stroke-width="0.9"/>
<text transform="translate(503.00,224.50) scale(0.916,1)" font-size="5.4" text-anchor="start" fill="#000">50</text>
<text transform="translate(292.30,286.80) rotate(-90) scale(1.087,1)" font-size="6.8" text-anchor="middle" fill="#000">IFNγ (spots/2e4 cells)</text>
<text transform="translate(513.30,288.70) rotate(90) scale(1.200,1)" font-size="6.8" text-anchor="middle" fill="#000">% 4-1BB (of CD8<tspan dy="-2.2" font-size="4.6">+</tspan><tspan dy="2.2">)</tspan></text>
<line x1="333.90" y1="352.20" x2="333.90" y2="354.60" stroke="#2a2a2a" stroke-width="0.9"/>
<line x1="324.90" y1="222.40" x2="324.90" y2="244.47" stroke="#000" stroke-width="1.2"/>
<line x1="322.00" y1="222.40" x2="327.80" y2="222.40" stroke="#000" stroke-width="1.2"/>
<rect x="319.00" y="244.47" width="11.90" height="107.73" fill="#000"/>
<line x1="342.60" y1="247.06" x2="342.60" y2="277.69" stroke="#000" stroke-width="1.2"/>
<line x1="339.70" y1="247.06" x2="345.50" y2="247.06" stroke="#000" stroke-width="1.2"/>
<rect x="336.90" y="277.69" width="11.40" height="74.51" fill="#fff" stroke="#222" stroke-width="0.8"/>
<text transform="translate(336.30,359.10) rotate(-45)" font-size="5.7" text-anchor="end" fill="#000">HPLC mut TP53</text>
<line x1="382.00" y1="352.20" x2="382.00" y2="354.60" stroke="#2a2a2a" stroke-width="0.9"/>
<line x1="390.70" y1="346.36" x2="390.70" y2="348.83" stroke="#000" stroke-width="1.2"/>
<line x1="387.80" y1="346.36" x2="393.60" y2="346.36" stroke="#000" stroke-width="1.2"/>
<rect x="385.00" y="348.83" width="11.40" height="3.37" fill="#fff" stroke="#222" stroke-width="0.8"/>
<text transform="translate(384.40,359.10) rotate(-45)" font-size="5.7" text-anchor="end" fill="#000">HPLC wt TP53</text>
<line x1="430.10" y1="352.20" x2="430.10" y2="354.60" stroke="#2a2a2a" stroke-width="0.9"/>
<line x1="421.10" y1="351.16" x2="421.10" y2="351.68" stroke="#000" stroke-width="1.2"/>
<line x1="418.20" y1="351.16" x2="424.00" y2="351.16" stroke="#000" stroke-width="1.2"/>
<rect x="415.20" y="351.68" width="11.90" height="0.52" fill="#000"/>
<line x1="438.80" y1="349.21" x2="438.80" y2="350.12" stroke="#000" stroke-width="1.2"/>
<line x1="435.90" y1="349.21" x2="441.70" y2="349.21" stroke="#000" stroke-width="1.2"/>
<rect x="433.10" y="350.12" width="11.40" height="2.08" fill="#fff" stroke="#222" stroke-width="0.8"/>
<text transform="translate(432.50,359.10) rotate(-45)" font-size="5.7" text-anchor="end" fill="#000">TIL alone</text>
<line x1="478.20" y1="352.20" x2="478.20" y2="354.60" stroke="#2a2a2a" stroke-width="0.9"/>
<line x1="469.20" y1="239.27" x2="469.20" y2="252.25" stroke="#000" stroke-width="1.2"/>
<line x1="466.30" y1="239.27" x2="472.10" y2="239.27" stroke="#000" stroke-width="1.2"/>
<rect x="463.30" y="252.25" width="11.90" height="99.95" fill="#000"/>
<line x1="486.90" y1="229.67" x2="486.90" y2="233.04" stroke="#000" stroke-width="1.2"/>
<line x1="484.00" y1="229.67" x2="489.80" y2="229.67" stroke="#000" stroke-width="1.2"/>
<rect x="481.20" y="233.04" width="11.40" height="119.16" fill="#fff" stroke="#222" stroke-width="0.8"/>
<text transform="translate(480.60,359.10) rotate(-45)" font-size="5.7" text-anchor="end" fill="#000">OKT3</text>
<rect x="379.00" y="254.50" width="4.50" height="6.40" fill="#000"/>
<rect x="379.30" y="266.10" width="4.10" height="6.00" fill="#fff" stroke="#222" stroke-width="0.7"/>
<text transform="translate(387.30,260.30) scale(0.940,1)" font-size="6.3" text-anchor="start" fill="#000">IFNγ ELISPOT</text>
<text transform="translate(387.30,271.60) scale(1.050,1)" font-size="6.3" text-anchor="start" fill="#000">% 4-1BB (of CD8<tspan dy="-2" font-size="4.2">+</tspan><tspan dy="2">)</tspan></text>
</g>
</svg>
</body></html>
